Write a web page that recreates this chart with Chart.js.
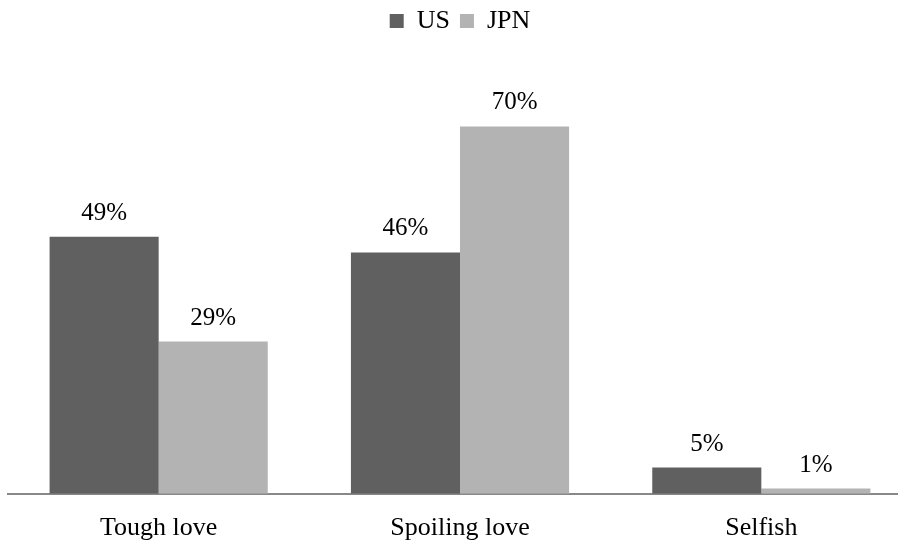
<!DOCTYPE html>
<html>
<head>
<meta charset="utf-8">
<script src="https://cdn.jsdelivr.net/npm/chart.js@4"></script>
<style>
  html, body { margin: 0; padding: 0; background: #fff; overflow: hidden; }
  #wrap { width: 912px; height: 549px; }
</style>
</head>
<body>
<div id="wrap"><canvas id="bar-chart"></canvas></div>
<script>
// Data
const categories = ['Tough love', 'Spoiling love', 'Selfish'];
const usValues = [49, 46, 5];
const jpnValues = [29, 70, 1];

const serif = '"Liberation Serif", "Times New Roman", serif';

// labels drawn above each bar
const valueLabels = {
    id: 'valueLabels',
    afterDatasetsDraw(chart) {
        const ctx = chart.ctx;
        ctx.save();
        ctx.font = '25px ' + serif;
        ctx.fillStyle = '#000';
        ctx.textAlign = 'center';
        ctx.textBaseline = 'alphabetic';
        chart.data.datasets.forEach(function (ds, i) {
            chart.getDatasetMeta(i).data.forEach(function (bar, j) {
                ctx.fillText(ds.data[j] + '%', bar.x, bar.y - 17);
            });
        });
        ctx.restore();
    }
};

// extra space under the legend
const legendSpace = {
    id: 'legendSpace',
    beforeInit(chart) {
        const fit = chart.legend.fit;
        chart.legend.fit = function () {
            fit.bind(chart.legend)();
            this.height += 30;
        };
    }
};

const barChartData = {
    labels: categories,
    datasets: [{
        label: 'US',
        data: usValues,
        backgroundColor: '#606060'
    }, {
        label: 'JPN',
        data: jpnValues,
        backgroundColor: '#b3b3b3'
    }]
};

new Chart(document.getElementById('bar-chart'), {
    type: 'bar',
    data: barChartData,
    plugins: [valueLabels, legendSpace],
    options: {
        responsive: true,
        maintainAspectRatio: false,
        animation: false,
        categoryPercentage: 0.724,
        barPercentage: 1,
        layout: { padding: { left: 8, right: 0, top: -2, bottom: -14 } },
        plugins: {
            legend: {
                position: 'top',
                labels: {
                    font: { family: serif, size: 26 },
                    color: '#000',
                    boxWidth: 14,
                    boxHeight: 14,
                    padding: 10
                }
            },
            tooltip: { enabled: false }
        },
        scales: {
            x: {
                grid: { display: false, drawTicks: false },
                border: { color: '#888888', width: 2 },
                ticks: {
                    color: '#000',
                    font: { family: serif, size: 26 },
                    padding: 19
                }
            },
            y: {
                display: false,
                min: 0,
                max: 80
            }
        }
    }
});
</script>
</body>
</html>
